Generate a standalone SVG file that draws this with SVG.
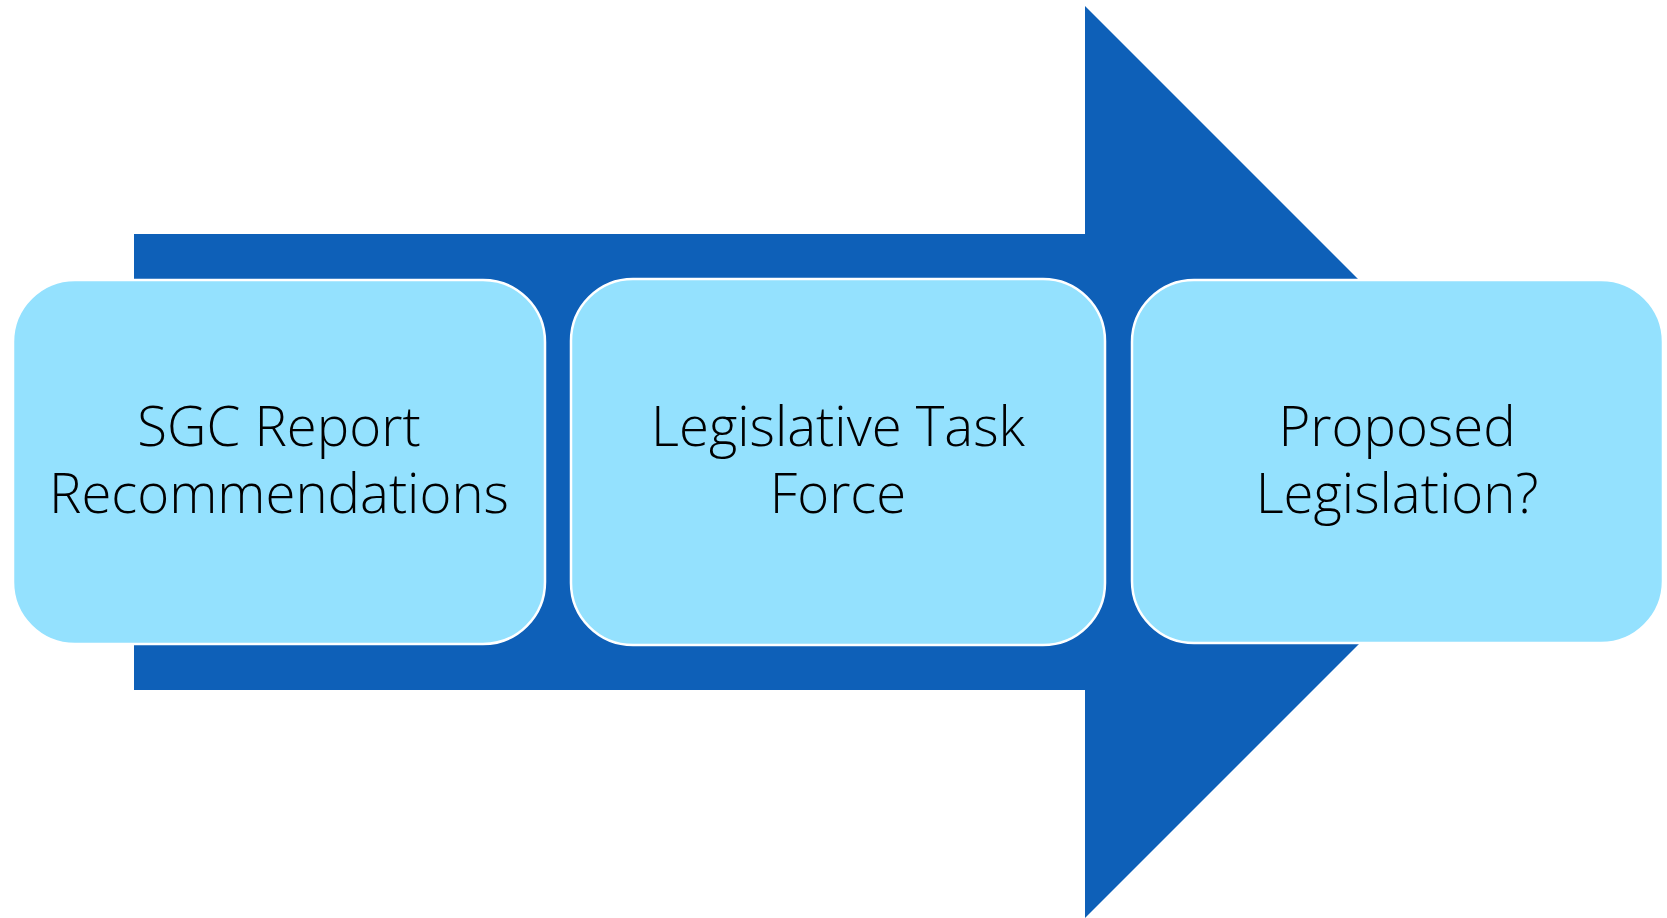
<svg xmlns="http://www.w3.org/2000/svg" width="1667" height="918" viewBox="0 0 1667 918">
<style>
.box{fill:#94E1FE;stroke:#FFFFFF;stroke-width:2.5}
.lbl{font-family:"Open Sans","Liberation Sans",sans-serif;font-weight:300;font-size:54.5px;fill:#000000;text-anchor:middle}
</style>
<rect width="1667" height="918" fill="#FFFFFF"/>
<g id="connectors">
<polygon id="arrow" points="134,234 1085,234 1085,6 1541,462 1085,918 1085,690 134,690" fill="#0E60B8"/>
</g>
<g id="node1">
<rect class="box" x="13" y="280" width="532" height="364" rx="62" ry="62"/>
<text class="lbl" x="279" y="446">SGC Report</text>
<text class="lbl" x="279" y="513">Recommendations</text>
</g>
<g id="node2">
<rect class="box" x="571" y="279" width="534" height="366" rx="62" ry="62"/>
<text class="lbl" x="838" y="446">Legislative Task</text>
<text class="lbl" x="838" y="513">Force</text>
</g>
<g id="node3">
<rect class="box" x="1132" y="280" width="531" height="363" rx="62" ry="62"/>
<text class="lbl" x="1397" y="446">Proposed</text>
<text class="lbl" x="1397" y="513">Legislation?</text>
</g>
</svg>
